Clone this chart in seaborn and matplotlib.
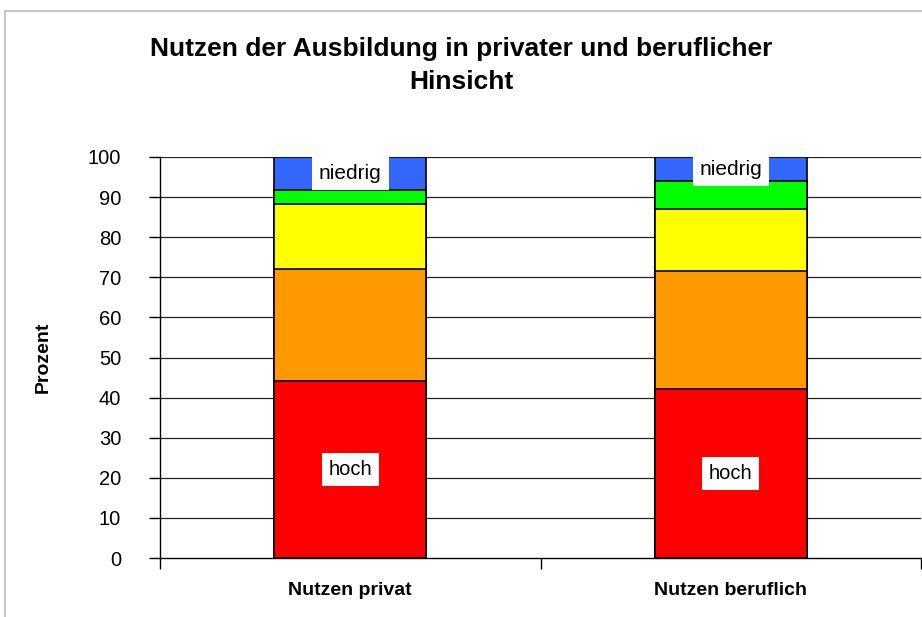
import numpy as np
import pandas as pd
import matplotlib.pyplot as plt
import seaborn as sns
from matplotlib.lines import Line2D

# ============ Data ============
groups = ['Nutzen privat', 'Nutzen beruflich']
levels = ['hoch', 'eher hoch', 'mittel', 'eher niedrig', 'niedrig']
hoch = [44.1, 42.1]
eher_hoch = [28.0, 29.5]
mittel = [16.3, 15.5]
eher_niedrig = [3.3, 6.8]
niedrig = [8.3, 6.1]

level_colors = ['#FF0000', '#FF9900', '#FFFF00', '#00FF00', '#3366FF']

values = [hoch, eher_hoch, mittel, eher_niedrig, niedrig]
df = pd.DataFrame({'group': np.repeat(groups, len(levels)),
                   'level': levels * len(groups),
                   'value': [values[j][i] for i in range(len(groups)) for j in range(len(levels))]})
df['top'] = df.groupby('group')['value'].cumsum()

# ============ Style ============
sns.set_style('white')
plt.rcParams['font.family'] = ['Liberation Sans', 'DejaVu Sans']
plt.rcParams['text.color'] = 'black'
plt.rcParams['axes.labelcolor'] = 'black'
plt.rcParams['xtick.color'] = 'black'
plt.rcParams['ytick.color'] = 'black'

fig = plt.figure(figsize=(9.22, 6.17), dpi=100)
ax = fig.add_axes([160 / 922, 1 - 558 / 617, 761 / 922, 401 / 617])

# draw cumulative stacks from the top down so shorter bars sit over taller ones
for lev, col in reversed(list(zip(levels, level_colors))):
    sub = df[df['level'] == lev]
    sns.barplot(data=sub, x='group', y='top', order=groups, color=col,
                width=0.4, edgecolor='black', linewidth=1.2, saturation=1, ax=ax)

ax.set_xlim(-0.5, 1.5)
ax.set_ylim(0, 100)
ax.set_yticks(range(0, 101, 10))
for y in range(10, 101, 10):
    ax.axhline(y, color='#222222', lw=0.9, zorder=0)
ax.set_axisbelow(True)

for s in ['top', 'right']:
    ax.spines[s].set_visible(False)
for s in ['left', 'bottom']:
    ax.spines[s].set_color('black')
    ax.spines[s].set_linewidth(1.0)

ax.tick_params(axis='y', length=8, width=1, labelsize=14.5, pad=20, left=True)
ax.tick_params(axis='x', which='major', length=0, pad=17)
ax.set_xticks([-0.5, 0.5, 1.5], minor=True)
ax.tick_params(axis='x', which='minor', length=8, width=1, bottom=True)
ax.set_xticklabels(groups, fontsize=14, fontweight='bold')
ax.set_xlabel('')
ax.set_ylabel('Prozent', fontsize=14, fontweight='bold', labelpad=26)

# segment labels, centred on their segments
for i in range(len(groups)):
    ax.text(i, hoch[i] / 2, 'hoch', ha='center', va='center', fontsize=14.5,
            bbox=dict(facecolor='white', edgecolor='none', pad=5))
    ax.text(i, 100 - niedrig[i] / 2, 'niedrig', ha='center', va='center', fontsize=15,
            bbox=dict(facecolor='white', edgecolor='none', pad=5))

fig.text(0.5, 1 - 65.5 / 617, 'Nutzen der Ausbildung in privater und beruflicher\nHinsicht',
         ha='center', va='center', fontsize=19, fontweight='bold', linespacing=1.45)

# outer chart frame (left and top edges visible)
fig.add_artist(Line2D([5 / 922, 5 / 922], [0, 1 - 11 / 617], color='#BBBBBB', lw=1.2))
fig.add_artist(Line2D([5 / 922, 1], [1 - 11 / 617, 1 - 11 / 617], color='#BBBBBB', lw=1.2))

fig.savefig('out.png', dpi=100)
